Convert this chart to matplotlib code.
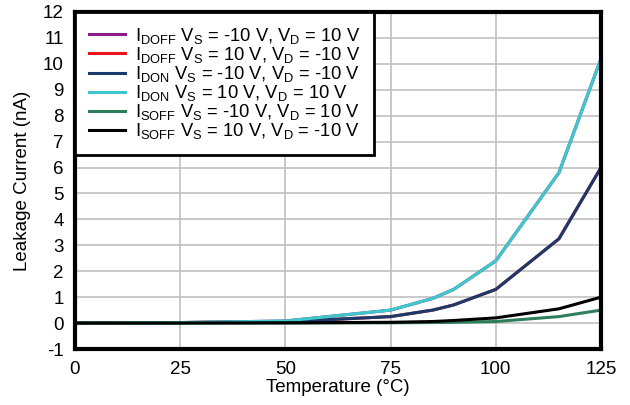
import matplotlib
matplotlib.use('Agg')
import matplotlib.pyplot as plt

plt.rcParams['font.family'] = ['Liberation Sans', 'DejaVu Sans']
plt.rcParams['mathtext.fontset'] = 'custom'
plt.rcParams['mathtext.rm'] = 'Liberation Sans'
plt.rcParams['mathtext.it'] = 'Liberation Sans'
plt.rcParams['axes.unicode_minus'] = False

# temperature points (°C)
temp = [0, 25, 50, 75, 85, 90, 100, 115, 125]

# leakage currents (nA)
idoff_neg = [0, 0.02, 0.08, 0.5, 0.95, 1.3, 2.4, 5.8, 10.2]
idoff_pos = [0, 0.02, 0.05, 0.25, 0.5, 0.7, 1.3, 3.25, 6.0]
idon_neg = [0, 0.02, 0.05, 0.25, 0.5, 0.7, 1.3, 3.25, 6.0]
idon_pos = [0, 0.02, 0.08, 0.5, 0.95, 1.3, 2.4, 5.8, 10.2]
isoff_neg = [0, 0.0, 0.0, 0.01, 0.02, 0.03, 0.06, 0.25, 0.5]
isoff_pos = [0, 0.0, 0.01, 0.03, 0.06, 0.1, 0.2, 0.55, 1.0]

labels = [
    r'I$_{\mathrm{DOFF}}$ V$_{\mathrm{S}}$ = -10 V, V$_{\mathrm{D}}$ = 10 V',
    r'I$_{\mathrm{DOFF}}$ V$_{\mathrm{S}}$ = 10 V, V$_{\mathrm{D}}$ = -10 V',
    r'I$_{\mathrm{DON}}$ V$_{\mathrm{S}}$ = -10 V, V$_{\mathrm{D}}$ = -10 V',
    r'I$_{\mathrm{DON}}$ V$_{\mathrm{S}}$ = 10 V, V$_{\mathrm{D}}$ = 10 V',
    r'I$_{\mathrm{SOFF}}$ V$_{\mathrm{S}}$ = -10 V, V$_{\mathrm{D}}$ = 10 V',
    r'I$_{\mathrm{SOFF}}$ V$_{\mathrm{S}}$ = 10 V, V$_{\mathrm{D}}$ = -10 V',
]
series = [idoff_neg, idoff_pos, idon_neg, idon_pos, isoff_neg, isoff_pos]
colors = ['#8B1A8B', '#E8141C', '#1B3A6B', '#3CC8CC', '#2E7D5B', '#000000']

fig = plt.figure(figsize=(6.3, 4.05), dpi=100)
ax = fig.add_axes([75 / 630, 56 / 405, 526 / 630, 337 / 405])

for vals, lab, col in zip(series, labels, colors):
    ax.plot(temp, vals, color=col, lw=2.2, label=lab)

ax.set_xlim(0, 125)
ax.set_ylim(-1, 12)
ax.set_xticks(range(0, 126, 25))
ax.set_yticks(range(-1, 13))
ax.grid(True, color='#c0c0c0', lw=1.2)
ax.set_axisbelow(True)
for sp in ax.spines.values():
    sp.set_linewidth(3)
    sp.set_color('black')
ax.tick_params(length=0, labelsize=13.5)
ax.tick_params(axis='x', pad=9)
ax.tick_params(axis='y', pad=8)

ax.set_xlabel('Temperature (°C)', fontsize=13.5, labelpad=0)
ax.set_ylabel('Leakage Current (nA)', fontsize=13.5, labelpad=9)

leg = ax.legend(loc='upper left', fontsize=13.2, frameon=True, fancybox=False,
                handlelength=2.0, handletextpad=0.5, borderaxespad=0,
                labelspacing=-0.05, borderpad=0.75)
leg.get_frame().set_edgecolor('black')
leg.get_frame().set_linewidth(2)
leg.get_frame().set_alpha(1)

fig.savefig('out.png', dpi=100)
